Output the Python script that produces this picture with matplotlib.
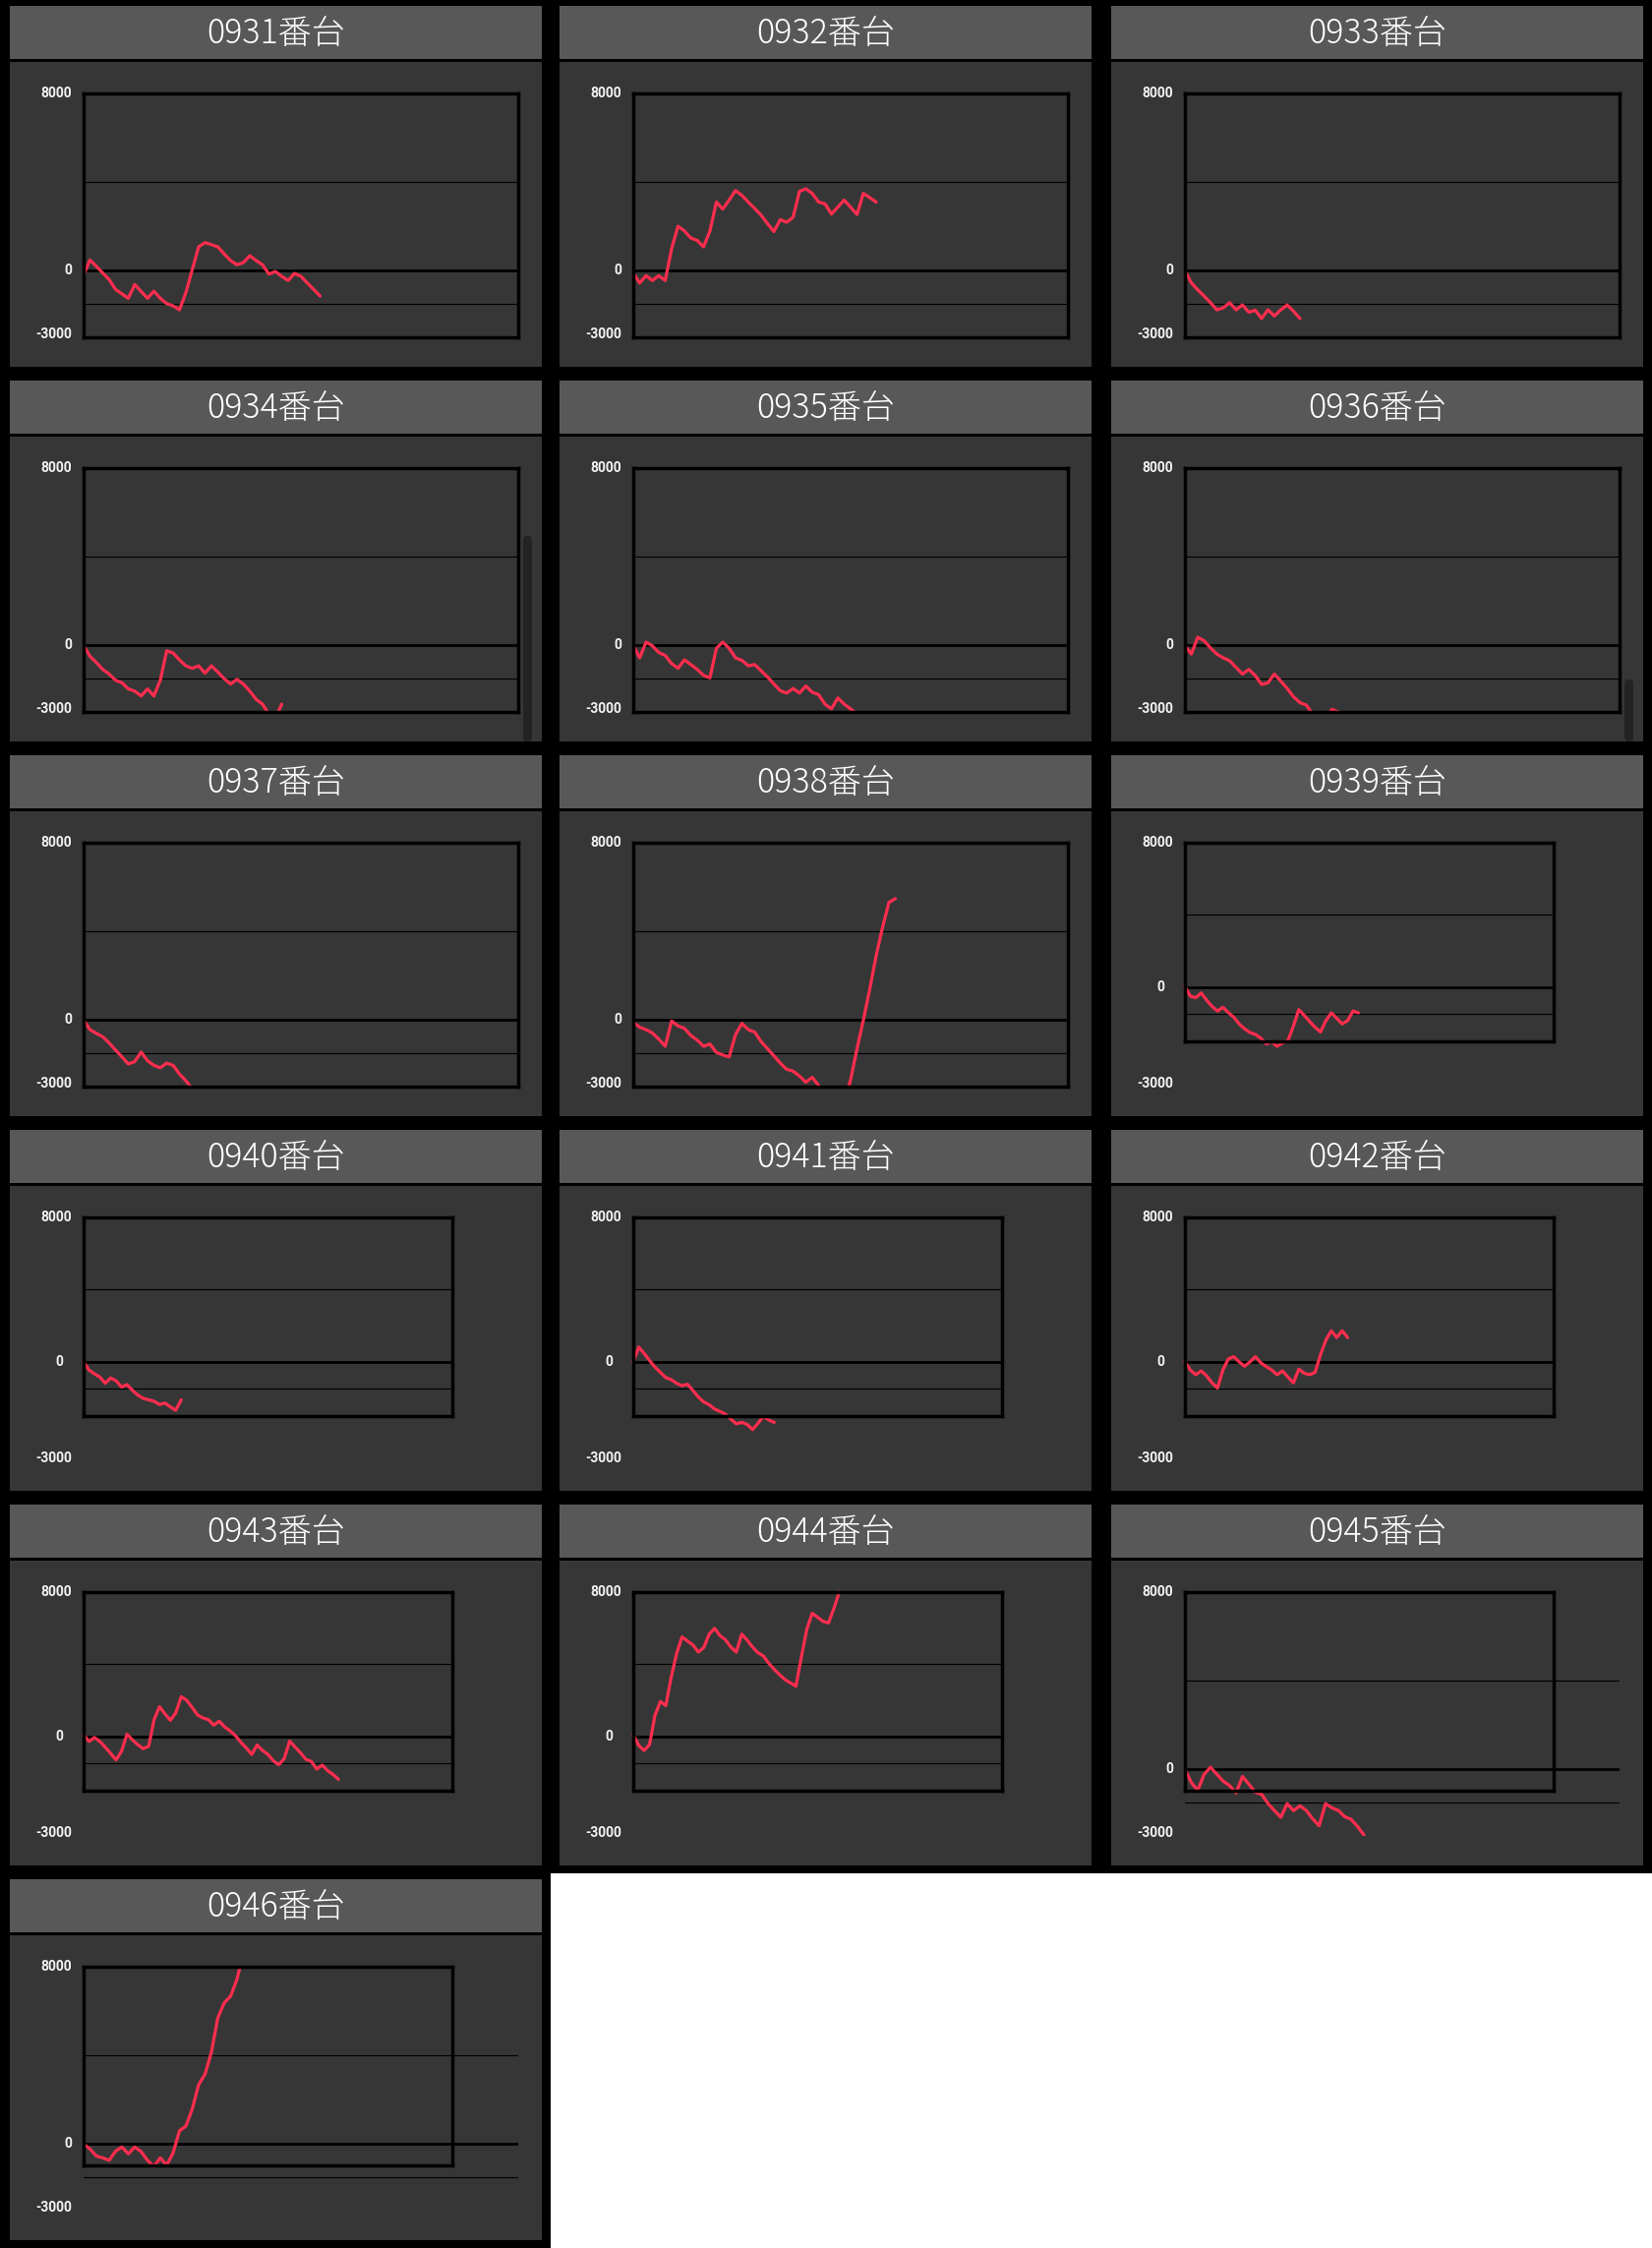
import matplotlib
matplotlib.use("Agg")
import matplotlib.pyplot as plt
from matplotlib.patches import Rectangle, FancyBboxPatch

# ---------------- data ----------------
codes = ["0931", "0932", "0933", "0934", "0935", "0936", "0937", "0938",
         "0939", "0940", "0941", "0942", "0943", "0944", "0945", "0946"]
titles = [c + "番台" for c in codes]

s0931 = [-200, 490, 200, -100, -400, -840, -1040, -1240, -620, -930, -1240, -920, -1240,
         -1480, -1580, -1760, -990, 50, 1080, 1270, 1180, 1080, 760, 460, 270, 370, 680,
         460, 270, -150, -30, -250, -440, -120, -250, -550, -840, -1140]
s0932 = [-100, -550, -220, -440, -220, -440, 1000, 2010, 1800, 1480, 1370, 1080, 1800,
         3100, 2780, 3190, 3620, 3400, 3100, 2810, 2510, 2130, 1770, 2310, 2190, 2410,
         3580, 3700, 3490, 3100, 3020, 2560, 2870, 3190, 2870, 2540, 3490, 3300, 3100]
s0933 = [0, -540, -860, -1140, -1440, -1760, -1670, -1440, -1760, -1540, -1870, -1780,
         -2150, -1760, -2040, -1760, -1540, -1830, -2150]
s0934 = [0, -490, -770, -1080, -1290, -1570, -1680, -1960, -2060, -2280, -1960, -2280,
         -1570, -240, -340, -650, -920, -1030, -920, -1250, -920, -1200, -1500, -1740,
         -1530, -1740, -2060, -2430, -2650, -3100, -3300, -2650]
s0935 = [0, -560, 150, -20, -320, -450, -820, -1030, -650, -860, -1080, -1350, -1460,
         -130, 150, -130, -560, -670, -920, -860, -1140, -1420, -1740, -2040, -2150,
         -1940, -2150, -1830, -2110, -2220, -2650, -2860, -2370, -2650, -2860, -3100]
s0936 = [0, -390, 370, 210, -110, -390, -560, -690, -990, -1290, -1080, -1360, -1760,
         -1680, -1290, -1610, -1940, -2320, -2580, -2690, -3100, -3300, -3300, -2880,
         -3000, -3100]
s0937 = [0, -430, -600, -750, -1030, -1350, -1660, -1980, -1870, -1440, -1830, -2040,
         -2150, -1940, -2040, -2430, -2730, -3100]
s0938 = [-100, -320, -430, -580, -860, -1180, -40, -260, -370, -690, -900, -1180, -1080,
         -1460, -1570, -1660, -650, -150, -430, -540, -970, -1290, -1610, -1940, -2220,
         -2300, -2520, -2800, -2580, -2950, -3300, -3500, -3600, -3700, -2700, -1300, 0,
         1400, 2900, 4190, 5310, 5480]
s0939 = [50, -500, -580, -320, -710, -1060, -1320, -1110, -1400, -1660, -2030, -2300,
         -2510, -2610, -2820, -3140, -3030, -3270, -3090, -2960, -2160, -1240, -1560,
         -1900, -2220, -2480, -1850, -1420, -1720, -2030, -1850, -1320, -1420]
s0940 = [0, -450, -660, -840, -1180, -890, -1050, -1390, -1260, -1570, -1840, -2020,
         -2100, -2180, -2360, -2280, -2490, -2680, -2100]
s0941 = [0, 820, 470, 80, -290, -580, -870, -980, -1190, -1320, -1240, -1580, -1950,
         -2220, -2370, -2610, -2740, -2900, -3170, -3430, -3350, -3460, -3750, -3400,
         -3010, -3220, -3350]
s0942 = [0, -450, -710, -500, -770, -1160, -1450, -450, 160, 290, 0, -240, 0, 290, -50,
         -260, -450, -710, -500, -840, -1160, -400, -630, -710, -580, 400, 1210, 1720,
         1350, 1720, 1350]
s0943 = [100, -270, -50, -270, -590, -940, -1290, -810, 130, -180, -450, -670, -540, 940,
         1650, 1260, 900, 1310, 2210, 2010, 1620, 1200, 1030, 940, 630, 850, 540, 320, 50,
         -320, -630, -990, -470, -770, -990, -1350, -1560, -1220, -250, -580, -900, -1260,
         -1380, -1800, -1580, -1890, -2100, -2370]
s0944 = [100, -490, -770, -450, 1170, 1940, 1710, 3300, 4600, 5520, 5290, 5070, 4680,
         4930, 5670, 5990, 5580, 5360, 4950, 4680, 5670, 5340, 4950, 4640, 4460, 4050,
         3720, 3420, 3150, 2970, 2790, 4410, 5940, 6830, 6600, 6380, 6290, 7100, 8000]
s0945 = [0, -590, -950, -220, 100, -220, -530, -730, -1060, -320, -660, -1030, -1120,
         -1540, -1850, -2160, -1540, -1860, -1640, -1850, -2230, -2540, -1540, -1730,
         -1850, -2130, -2250, -2570, -2950]
s0946 = [0, -220, -540, -620, -730, -320, -130, -440, -130, -340, -730, -1010, -620,
         -950, -400, 600, 810, 1580, 2680, 3150, 4150, 5690, 6370, 6670, 7440, 8600]

series = [s0931, s0932, s0933, s0934, s0935, s0936, s0937, s0938,
          s0939, s0940, s0941, s0942, s0943, s0944, s0945, s0946]

y_top, y_zero, y_bottom = 8000, 0, -3000
grid_thin = [4000, -1500]
x_span = 68

# chart rendering mode per panel (as shown in the page)
modes = ["full"] * 8 + ["compact"] * 6 + ["mixed"] * 2
scrollbars = {3: (158, 367), 5: (304, 367)}

# ---------------- style / layout ----------------
W, H = 1680, 2286
BG = "black"
TITLE_BG = "#585858"
BODY_BG = "#363636"
LINE = "#ff2d4e"
LABEL_C = "#f2f2f2"

col_x = [10, 569, 1130]
row_y = [6, 387, 768, 1149, 1530, 1911]
PW, TH, BT, BH = 541, 54, 57, 310
FULL = (75, 89, 442, 248)
COMPACT = (75, 89, 375, 202)

fig = plt.figure(figsize=(W / 100, H / 100), dpi=100)
fig.patch.set_facecolor(BG)


def fig_rect(x, y, w, h):
    return [x / W, 1 - (y + h) / H, w / W, h / H]


def pix_rect(x, y, w, h, color, z=-10):
    p = Rectangle((x, H - y - h), w, h, facecolor=color, edgecolor="none",
                  transform=None, zorder=z)
    fig.add_artist(p)


title_font = dict(family=["Noto Sans CJK JP", "DejaVu Sans"], fontsize=24.5,
                  fontweight="light", color="white", ha="center", va="center")
label_font = dict(family=["Roboto", "DejaVu Sans"], fontsize=10, fontweight="bold",
                  color=LABEL_C, ha="right", va="center", zorder=6)


def style_box(ax):
    ax.set_xticks([])
    ax.set_yticks([])
    ax.patch.set_visible(False)
    for s in ax.spines.values():
        s.set_color("black")
        s.set_linewidth(2.5)
        s.set_zorder(3)


for i, (title, vals, mode) in enumerate(zip(titles, series, modes)):
    r, c = divmod(i, 3)
    x0, y0 = col_x[c], row_y[r]
    pix_rect(x0, y0, PW, TH, TITLE_BG)
    pix_rect(x0, y0 + BT, PW, BH, BODY_BG)
    fig.text((x0 + PW / 2) / W, 1 - (y0 + TH / 2 + 1) / H, title, **title_font)

    if i in scrollbars:
        a, b = scrollbars[i]
        sb = FancyBboxPatch((x0 + 522, H - (y0 + b)), 9, b - a,
                            boxstyle="round,pad=0,rounding_size=4",
                            facecolor="#232323", edgecolor="none",
                            transform=None, zorder=-5)
        fig.add_artist(sb)

    geo = COMPACT if mode == "compact" else FULL
    ax = fig.add_axes(fig_rect(x0 + geo[0], y0 + geo[1], geo[2], geo[3]))
    ax.set_xlim(0, x_span)
    ax.set_ylim(y_bottom, y_top)
    style_box(ax)
    for g in grid_thin:
        ax.axhline(g, color="black", lw=0.8, zorder=1)
    ax.axhline(y_zero, color="black", lw=2.0, zorder=1)
    ax.plot(range(len(vals)), vals, color=LINE, lw=2.3, zorder=2,
            clip_on=(mode != "compact"), solid_joinstyle="round",
            solid_capstyle="round")

    if mode == "mixed":
        for s in ax.spines.values():
            s.set_visible(False)
        bx = fig.add_axes(fig_rect(x0 + COMPACT[0], y0 + COMPACT[1],
                                   COMPACT[2], COMPACT[3]))
        bx.set_xlim(0, x_span)
        bx.set_ylim(y_bottom, y_top)
        style_box(bx)

    # value labels
    full_h = FULL[3]
    fig.text((x0 + 63) / W, 1 - (y0 + FULL[1]) / H, str(y_top), **label_font)
    if mode == "compact":
        zy = y0 + COMPACT[1] + COMPACT[3] * (y_top - y_zero) / (y_top - y_bottom)
        zx = x0 + 54
    else:
        zy = y0 + FULL[1] + full_h * (y_top - y_zero) / (y_top - y_bottom)
        zx = x0 + 63
    fig.text(zx / W, 1 - zy / H, str(y_zero), **label_font)
    fig.text((x0 + 63) / W, 1 - (y0 + FULL[1] + full_h - 3) / H, str(y_bottom),
             **label_font)

# empty white area at the bottom right
pix_rect(560, 1905, W - 560, H - 1905, "white")

fig.savefig("out.png", dpi=100, facecolor=BG)
